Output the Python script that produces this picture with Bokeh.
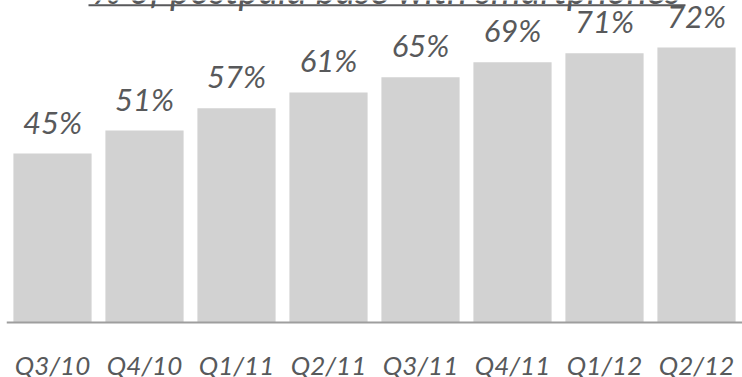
from bokeh.plotting import figure
from bokeh.models import Range1d, ColumnDataSource, LabelSet, Label, Span
from bokeh.core.properties import value
from bokeh.embed import file_html
from bokeh.resources import INLINE

categories = ["Q3/10", "Q4/10", "Q1/11", "Q2/11", "Q3/11", "Q4/11", "Q1/12", "Q2/12"]
values = [44.8, 50.9, 56.8, 61.0, 65.0, 69.0, 71.4, 72.9]
value_labels = ["45%", "51%", "57%", "61%", "65%", "69%", "71%", "72%"]
title_text = "% of postpaid base with smartphones"

FONT = "Lato"
TEXT_COLOR = "#58595b"
BAR_COLOR = "#d2d2d2"

W, H = 742, 377
LEFT = 6
BASE_PX = 322          # pixel row of the zero line
PX_PER_UNIT = 3.772
YMAX = BASE_PX / PX_PER_UNIT
YMIN = -(H - BASE_PX) / PX_PER_UNIT

xs = list(range(len(categories)))
src = ColumnDataSource(dict(x=xs, top=values, label=value_labels,
                            zero=[0] * len(xs), cat=categories))

p = figure(width=W, height=H, output_backend="svg", toolbar_location=None,
           x_range=Range1d(-0.5, len(categories) - 0.5), y_range=Range1d(YMIN, YMAX),
           min_border_left=LEFT, min_border_right=0, min_border_top=0,
           min_border_bottom=0)
p.outline_line_color = None
p.background_fill_color = "white"
p.border_fill_color = "white"
p.xgrid.visible = False
p.ygrid.visible = False
p.xaxis.visible = False
p.yaxis.visible = False

p.vbar(x="x", top="top", bottom=0, width=0.85, source=src,
       fill_color=BAR_COLOR, line_color=None)

p.add_layout(Span(location=0, dimension="width", line_color="#9e9e9e", line_width=2))

p.add_layout(LabelSet(x="x", y="top", text="label", source=src, y_offset=20,
                      text_align="center", text_baseline="alphabetic",
                      text_font=value(FONT), text_font_style="italic",
                      text_font_size="31px", text_color=TEXT_COLOR))

p.add_layout(LabelSet(x="x", y="zero", text="cat", source=src, y_offset=-52,
                      text_align="center", text_baseline="alphabetic",
                      text_font=value(FONT), text_font_style="italic",
                      text_font_size="26px", text_color=TEXT_COLOR))

def px_to_x(px):
    return (px - LEFT) / (W - LEFT) * len(categories) - 0.5

def py_to_y(py):
    return YMAX - py / PX_PER_UNIT

p.add_layout(Label(x=px_to_x(386.5), y=py_to_y(-12), text=title_text,
                   text_align="center", text_baseline="alphabetic",
                   text_font=FONT, text_font_style="italic",
                   text_font_size="38px", text_color=TEXT_COLOR))
p.segment(x0=[px_to_x(88)], y0=[py_to_y(4.8)], x1=[px_to_x(685)], y1=[py_to_y(4.8)],
          line_color=TEXT_COLOR, line_width=2)

open("out.html", "w").write(file_html(p, INLINE))
